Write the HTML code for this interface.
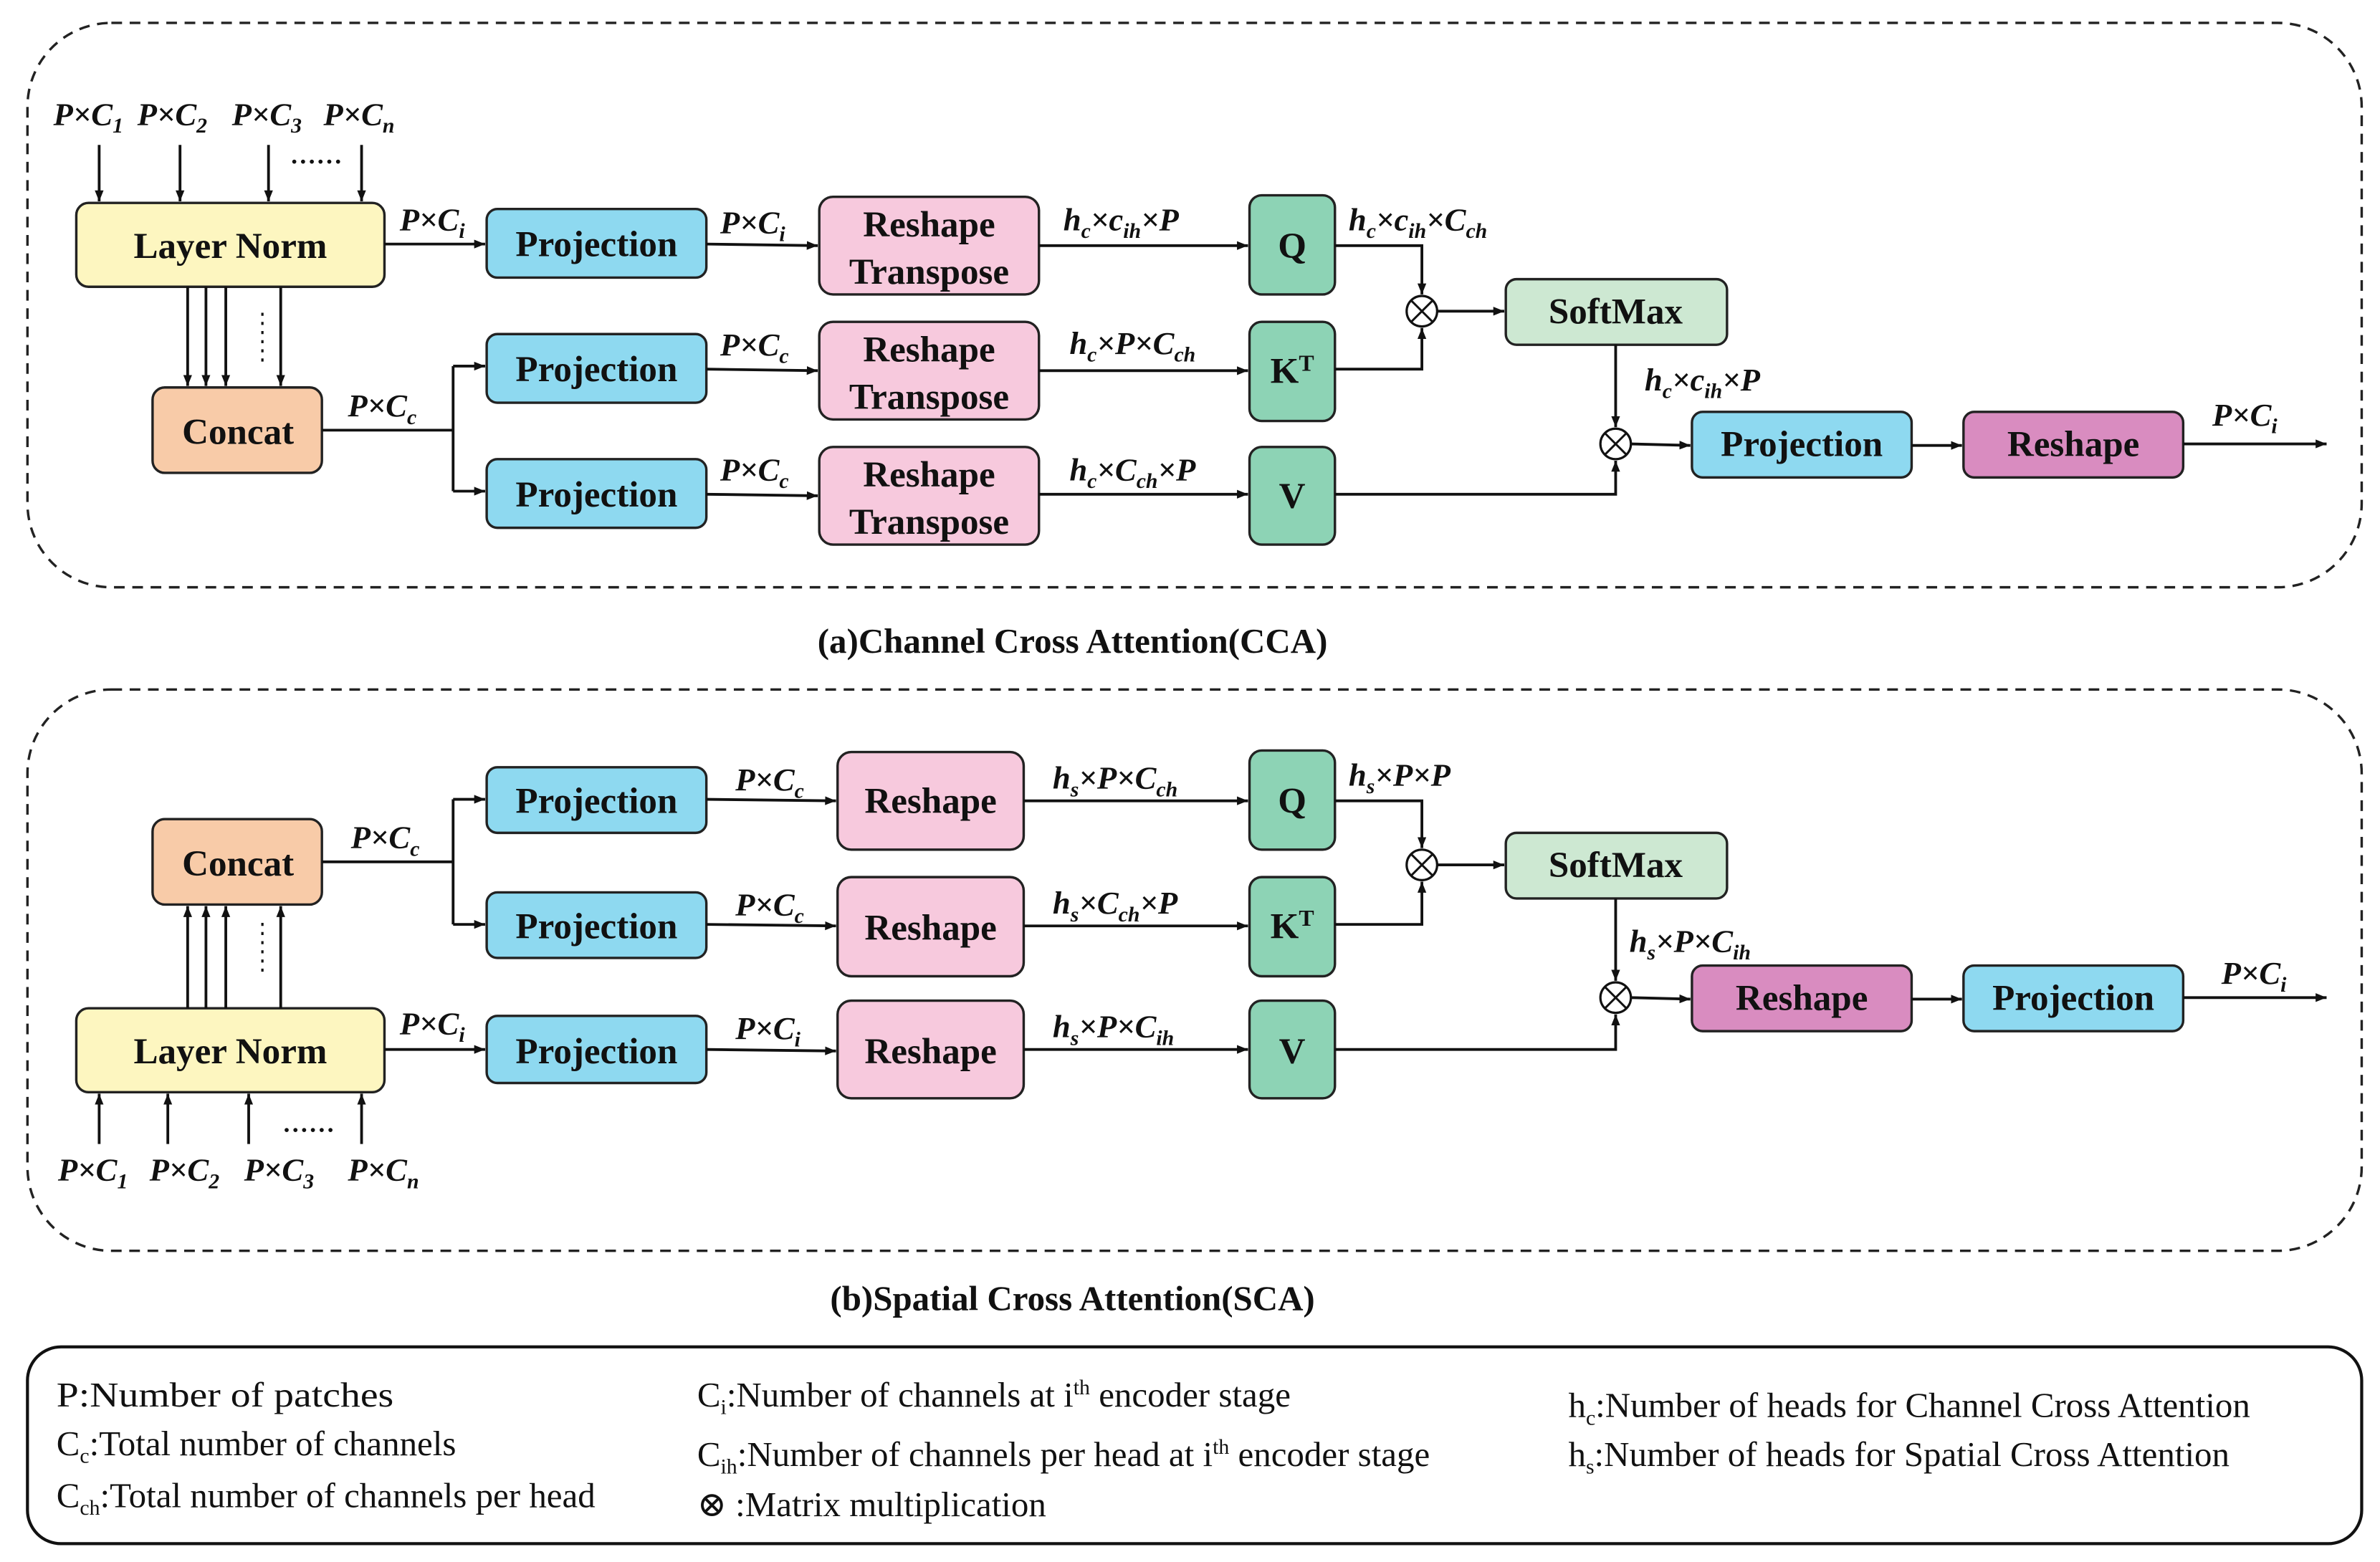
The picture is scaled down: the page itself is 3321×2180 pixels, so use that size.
<!DOCTYPE html>
<html><head><meta charset="utf-8"><style>
html,body{margin:0;padding:0;background:#fff}
svg{display:block}
.b{font-family:"Liberation Serif","Times New Roman","DejaVu Serif",serif;font-weight:bold;font-size:24px;fill:#111}
.l{font-family:"Liberation Serif","Times New Roman","DejaVu Serif",serif;font-weight:bold;font-style:italic;font-size:21px;fill:#111}
.g{font-family:"Liberation Serif","Times New Roman","DejaVu Serif",serif;font-size:23px;fill:#111}
.c{font-family:"Liberation Serif","Times New Roman","DejaVu Serif",serif;font-weight:bold;font-size:23px;fill:#111}
.s{font-size:14px}
.ln{stroke:#111;stroke-width:1.8;fill:none}
.bx{stroke:#222;stroke-width:1.6}
</style></head><body>
<svg width="3321" height="2180" viewBox="0 0 1560 1024" xmlns="http://www.w3.org/2000/svg">
<defs><marker id="a" viewBox="0 0 10 10" refX="10" refY="5" markerWidth="4" markerHeight="4" orient="auto"><path d="M0,1L10,5L0,9z" fill="#111"/></marker></defs>

<!-- Panel A -->
<rect x="18" y="15" width="1530" height="370" rx="55" fill="none" stroke="#222" stroke-width="1.6" stroke-dasharray="7,5"/>
<text class="l" x="35" y="82">P×C<tspan class="s" dy="5">1</tspan></text>
<text class="l" x="90" y="82">P×C<tspan class="s" dy="5">2</tspan></text>
<text class="l" x="152" y="82">P×C<tspan class="s" dy="5">3</tspan></text>
<text class="l" x="212" y="82">P×C<tspan class="s" dy="5">n</tspan></text>
<g class="ln" marker-end="url(#a)"><path d="M65,95V132"/><path d="M118,95V132"/><path d="M176,95V132"/><path d="M237,95V132"/></g>
<text class="g" x="190" y="107" font-size="16">......</text>
<rect class="bx" x="50" y="133" width="202" height="55" rx="8" fill="#fdf6c0"/>
<text class="b" x="151" y="169" text-anchor="middle">Layer Norm</text>
<g class="ln" marker-end="url(#a)"><path d="M123,188V253"/><path d="M135,188V253"/><path d="M148,188V253"/><path d="M184,188V253"/></g>
<path d="M172,205V237" stroke="#111" stroke-width="1.5" stroke-dasharray="2,4"/>
<rect class="bx" x="100" y="254" width="111" height="56" rx="8" fill="#f8cba8"/>
<text class="b" x="156" y="291" text-anchor="middle">Concat</text>

<text class="l" x="262" y="151">P×C<tspan class="s" dy="5">i</tspan></text>
<path class="ln" d="M252,160H318" marker-end="url(#a)"/>
<path class="ln" d="M211,282H297M297,240V322"/>
<path class="ln" d="M297,240H318" marker-end="url(#a)"/>
<path class="ln" d="M297,322H318" marker-end="url(#a)"/>
<text class="l" x="228" y="273">P×C<tspan class="s" dy="5">c</tspan></text>

<g fill="#8ed9f0"><rect class="bx" x="319" y="137" width="144" height="45" rx="7"/><rect class="bx" x="319" y="219" width="144" height="45" rx="7"/><rect class="bx" x="319" y="301" width="144" height="45" rx="7"/></g>
<text class="b" x="391" y="168" text-anchor="middle">Projection</text>
<text class="b" x="391" y="250" text-anchor="middle">Projection</text>
<text class="b" x="391" y="332" text-anchor="middle">Projection</text>

<text class="l" x="472" y="153">P×C<tspan class="s" dy="5">i</tspan></text>
<text class="l" x="472" y="233">P×C<tspan class="s" dy="5">c</tspan></text>
<text class="l" x="472" y="315">P×C<tspan class="s" dy="5">c</tspan></text>
<path class="ln" d="M463,160L536,161" marker-end="url(#a)"/>
<path class="ln" d="M463,242L536,243" marker-end="url(#a)"/>
<path class="ln" d="M463,324L536,325" marker-end="url(#a)"/>

<g fill="#f7c9dd"><rect class="bx" x="537" y="129" width="144" height="64" rx="9"/><rect class="bx" x="537" y="211" width="144" height="64" rx="9"/><rect class="bx" x="537" y="293" width="144" height="64" rx="9"/></g>
<text class="b" x="609" y="155" text-anchor="middle">Reshape</text><text class="b" x="609" y="186" text-anchor="middle">Transpose</text>
<text class="b" x="609" y="237" text-anchor="middle">Reshape</text><text class="b" x="609" y="268" text-anchor="middle">Transpose</text>
<text class="b" x="609" y="319" text-anchor="middle">Reshape</text><text class="b" x="609" y="350" text-anchor="middle">Transpose</text>

<text class="l" x="697" y="151">h<tspan class="s" dy="5">c</tspan><tspan dy="-5">×c</tspan><tspan class="s" dy="5">ih</tspan><tspan dy="-5">×P</tspan></text>
<text class="l" x="701" y="232">h<tspan class="s" dy="5">c</tspan><tspan dy="-5">×P×C</tspan><tspan class="s" dy="5">ch</tspan></text>
<text class="l" x="701" y="315">h<tspan class="s" dy="5">c</tspan><tspan dy="-5">×C</tspan><tspan class="s" dy="5">ch</tspan><tspan dy="-5">×P</tspan></text>
<path class="ln" d="M681,161H818" marker-end="url(#a)"/>
<path class="ln" d="M681,243H818" marker-end="url(#a)"/>
<path class="ln" d="M681,324H818" marker-end="url(#a)"/>

<g fill="#8dd3b5"><rect class="bx" x="819" y="128" width="56" height="65" rx="8"/><rect class="bx" x="819" y="211" width="56" height="65" rx="8"/><rect class="bx" x="819" y="293" width="56" height="64" rx="8"/></g>
<text class="b" x="847" y="169" text-anchor="middle">Q</text>
<text class="b" x="847" y="251" text-anchor="middle">K<tspan font-size="15" dy="-8">T</tspan></text>
<text class="b" x="847" y="333" text-anchor="middle">V</text>

<text class="l" x="884" y="151">h<tspan class="s" dy="5">c</tspan><tspan dy="-5">×c</tspan><tspan class="s" dy="5">ih</tspan><tspan dy="-5">×C</tspan><tspan class="s" dy="5">ch</tspan></text>
<path class="ln" d="M875,161H932V193" marker-end="url(#a)"/>
<path class="ln" d="M875,242H932V215" marker-end="url(#a)"/>
<circle cx="932" cy="204" r="10" fill="#fff" stroke="#111" stroke-width="1.5"/><path d="M925,197L939,211M939,197L925,211" stroke="#111" stroke-width="1.4"/>
<path class="ln" d="M942,204H986" marker-end="url(#a)"/>
<rect class="bx" x="987" y="183" width="145" height="43" rx="7" fill="#cde8d2"/>
<text class="b" x="1059" y="212" text-anchor="middle">SoftMax</text>
<path class="ln" d="M1059,226V280" marker-end="url(#a)"/>
<text class="l" x="1078" y="256">h<tspan class="s" dy="5">c</tspan><tspan dy="-5">×c</tspan><tspan class="s" dy="5">ih</tspan><tspan dy="-5">×P</tspan></text>
<path class="ln" d="M875,324H1059V302" marker-end="url(#a)"/>
<circle cx="1059" cy="291" r="10" fill="#fff" stroke="#111" stroke-width="1.5"/><path d="M1052,284L1066,298M1066,284L1052,298" stroke="#111" stroke-width="1.4"/>
<path class="ln" d="M1069,291L1108,292" marker-end="url(#a)"/>
<rect class="bx" x="1109" y="270" width="144" height="43" rx="7" fill="#8ed9f0"/>
<text class="b" x="1181" y="299" text-anchor="middle">Projection</text>
<path class="ln" d="M1253,292H1286" marker-end="url(#a)"/>
<rect class="bx" x="1287" y="270" width="144" height="43" rx="7" fill="#d98cc0"/>
<text class="b" x="1359" y="299" text-anchor="middle">Reshape</text>
<path class="ln" d="M1431,291H1525" marker-end="url(#a)"/>
<text class="l" x="1450" y="279">P×C<tspan class="s" dy="5">i</tspan></text>

<text class="c" x="703" y="428" text-anchor="middle">(a)Channel Cross Attention(CCA)</text>

<!-- Panel B -->
<rect x="18" y="452" width="1530" height="368" rx="55" fill="none" stroke="#222" stroke-width="1.6" stroke-dasharray="7,5"/>
<rect class="bx" x="100" y="537" width="111" height="56" rx="8" fill="#f8cba8"/>
<text class="b" x="156" y="574" text-anchor="middle">Concat</text>
<rect class="bx" x="50" y="661" width="202" height="55" rx="8" fill="#fdf6c0"/>
<text class="b" x="151" y="697" text-anchor="middle">Layer Norm</text>
<g class="ln" marker-end="url(#a)"><path d="M123,661V594"/><path d="M135,661V594"/><path d="M148,661V594"/><path d="M184,661V594"/></g>
<path d="M172,605V637" stroke="#111" stroke-width="1.5" stroke-dasharray="2,4"/>
<g class="ln" marker-end="url(#a)"><path d="M65,750V717"/><path d="M110,750V717"/><path d="M163,750V717"/><path d="M237,750V717"/></g>
<text class="g" x="185" y="742" font-size="16">......</text>
<text class="l" x="38" y="774">P×C<tspan class="s" dy="5">1</tspan></text>
<text class="l" x="98" y="774">P×C<tspan class="s" dy="5">2</tspan></text>
<text class="l" x="160" y="774">P×C<tspan class="s" dy="5">3</tspan></text>
<text class="l" x="228" y="774">P×C<tspan class="s" dy="5">n</tspan></text>

<path class="ln" d="M211,565H297M297,524V606"/>
<path class="ln" d="M297,524H318" marker-end="url(#a)"/>
<path class="ln" d="M297,606H318" marker-end="url(#a)"/>
<text class="l" x="230" y="556">P×C<tspan class="s" dy="5">c</tspan></text>
<path class="ln" d="M252,688H318" marker-end="url(#a)"/>
<text class="l" x="262" y="678">P×C<tspan class="s" dy="5">i</tspan></text>

<g fill="#8ed9f0"><rect class="bx" x="319" y="503" width="144" height="43" rx="7"/><rect class="bx" x="319" y="585" width="144" height="43" rx="7"/><rect class="bx" x="319" y="666" width="144" height="44" rx="7"/></g>
<text class="b" x="391" y="533" text-anchor="middle">Projection</text>
<text class="b" x="391" y="615" text-anchor="middle">Projection</text>
<text class="b" x="391" y="697" text-anchor="middle">Projection</text>
<text class="l" x="482" y="518">P×C<tspan class="s" dy="5">c</tspan></text>
<text class="l" x="482" y="600">P×C<tspan class="s" dy="5">c</tspan></text>
<text class="l" x="482" y="681">P×C<tspan class="s" dy="5">i</tspan></text>
<path class="ln" d="M463,524L548,525" marker-end="url(#a)"/>
<path class="ln" d="M463,606L548,607" marker-end="url(#a)"/>
<path class="ln" d="M463,688L548,689" marker-end="url(#a)"/>
<g fill="#f7c9dd"><rect class="bx" x="549" y="493" width="122" height="64" rx="9"/><rect class="bx" x="549" y="575" width="122" height="65" rx="9"/><rect class="bx" x="549" y="656" width="122" height="64" rx="9"/></g>
<text class="b" x="610" y="533" text-anchor="middle">Reshape</text>
<text class="b" x="610" y="616" text-anchor="middle">Reshape</text>
<text class="b" x="610" y="697" text-anchor="middle">Reshape</text>
<text class="l" x="690" y="517">h<tspan class="s" dy="5">s</tspan><tspan dy="-5">×P×C</tspan><tspan class="s" dy="5">ch</tspan></text>
<text class="l" x="690" y="599">h<tspan class="s" dy="5">s</tspan><tspan dy="-5">×C</tspan><tspan class="s" dy="5">ch</tspan><tspan dy="-5">×P</tspan></text>
<text class="l" x="690" y="680">h<tspan class="s" dy="5">s</tspan><tspan dy="-5">×P×C</tspan><tspan class="s" dy="5">ih</tspan></text>
<path class="ln" d="M671,525H818" marker-end="url(#a)"/>
<path class="ln" d="M671,607H818" marker-end="url(#a)"/>
<path class="ln" d="M671,688H818" marker-end="url(#a)"/>
<g fill="#8dd3b5"><rect class="bx" x="819" y="492" width="56" height="65" rx="8"/><rect class="bx" x="819" y="575" width="56" height="65" rx="8"/><rect class="bx" x="819" y="656" width="56" height="64" rx="8"/></g>
<text class="b" x="847" y="533" text-anchor="middle">Q</text>
<text class="b" x="847" y="615" text-anchor="middle">K<tspan font-size="15" dy="-8">T</tspan></text>
<text class="b" x="847" y="697" text-anchor="middle">V</text>
<text class="l" x="884" y="515">h<tspan class="s" dy="5">s</tspan><tspan dy="-5">×P×P</tspan></text>
<path class="ln" d="M875,525H932V556" marker-end="url(#a)"/>
<path class="ln" d="M875,606H932V578" marker-end="url(#a)"/>
<circle cx="932" cy="567" r="10" fill="#fff" stroke="#111" stroke-width="1.5"/><path d="M925,560L939,574M939,560L925,574" stroke="#111" stroke-width="1.4"/>
<path class="ln" d="M942,567H986" marker-end="url(#a)"/>
<rect class="bx" x="987" y="546" width="145" height="43" rx="7" fill="#cde8d2"/>
<text class="b" x="1059" y="575" text-anchor="middle">SoftMax</text>
<path class="ln" d="M1059,589V643" marker-end="url(#a)"/>
<text class="l" x="1068" y="624">h<tspan class="s" dy="5">s</tspan><tspan dy="-5">×P×C</tspan><tspan class="s" dy="5">ih</tspan></text>
<path class="ln" d="M875,688H1059V665" marker-end="url(#a)"/>
<circle cx="1059" cy="654" r="10" fill="#fff" stroke="#111" stroke-width="1.5"/><path d="M1052,647L1066,661M1066,647L1052,661" stroke="#111" stroke-width="1.4"/>
<path class="ln" d="M1069,654L1108,655" marker-end="url(#a)"/>
<rect class="bx" x="1109" y="633" width="144" height="43" rx="7" fill="#d98cc0"/>
<text class="b" x="1181" y="662" text-anchor="middle">Reshape</text>
<path class="ln" d="M1253,655H1286" marker-end="url(#a)"/>
<rect class="bx" x="1287" y="633" width="144" height="43" rx="7" fill="#8ed9f0"/>
<text class="b" x="1359" y="662" text-anchor="middle">Projection</text>
<path class="ln" d="M1431,654H1525" marker-end="url(#a)"/>
<text class="l" x="1456" y="645">P×C<tspan class="s" dy="5">i</tspan></text>

<text class="c" x="703" y="859" text-anchor="middle">(b)Spatial Cross Attention(SCA)</text>

<!-- Legend -->
<rect x="18" y="883" width="1530" height="129" rx="22" fill="none" stroke="#111" stroke-width="2"/>
<text class="g" x="37" y="922" textLength="221" lengthAdjust="spacingAndGlyphs">P:Number of patches</text>
<text class="g" x="37" y="954">C<tspan class="s" dy="5">c</tspan><tspan dy="-5">:Total number of channels</tspan></text>
<text class="g" x="37" y="988">C<tspan class="s" dy="5">ch</tspan><tspan dy="-5">:Total number of channels per head</tspan></text>
<text class="g" x="457" y="922">C<tspan class="s" dy="5">i</tspan><tspan dy="-5">:Number of channels at i</tspan><tspan class="s" dy="-8">th</tspan><tspan dy="8"> encoder stage</tspan></text>
<text class="g" x="457" y="961">C<tspan class="s" dy="5">ih</tspan><tspan dy="-5">:Number of channels per head at i</tspan><tspan class="s" dy="-8">th</tspan><tspan dy="8"> encoder stage</tspan></text>
<text class="g" x="457" y="994">⊗ :Matrix multiplication</text>
<text class="g" x="1028" y="929">h<tspan class="s" dy="5">c</tspan><tspan dy="-5">:Number of heads for Channel Cross Attention</tspan></text>
<text class="g" x="1028" y="961">h<tspan class="s" dy="5">s</tspan><tspan dy="-5">:Number of heads for Spatial Cross Attention</tspan></text>
</svg>
</body></html>
